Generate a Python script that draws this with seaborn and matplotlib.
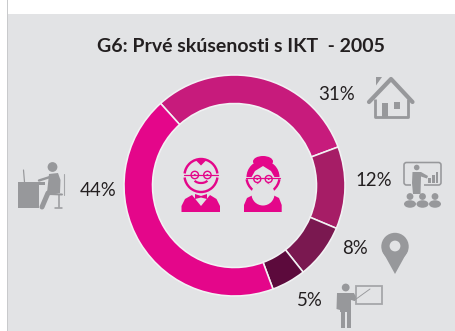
import numpy as np
import matplotlib
matplotlib.use("Agg")
import matplotlib.pyplot as plt
from matplotlib.patches import Circle, Ellipse, Polygon, Rectangle, FancyBboxPatch, Arc, Wedge
import seaborn as sns

title = "G6: Prvé skúsenosti s IKT  - 2005"
shares = [31, 12, 8, 5, 44]
colors = ["#C71B7C", "#A61D66", "#7A1850", "#5C0A3C", "#E4068A"]
label_xy = [(337, 95), (374, 180), (355, 248), (310, 301), (98, 190.5)]
start_clockwise_from_north = 318

PANEL = "#E2E3E5"
ICON = "#97989B"
PINK = "#E4068A"
TEXT = "#231F20"
W, H = 455, 331
px = 0.72  # one pixel in points at dpi 100

sns.set_theme(style="white")
plt.rcParams["font.family"] = ["Lato", "DejaVu Sans"]

fig = plt.figure(figsize=(W / 100, H / 100), dpi=100, facecolor="white")

bg = fig.add_axes([0, 0, 1, 1], zorder=0)
bg.set_xlim(0, W); bg.set_ylim(H, 0); bg.axis("off")
bg.add_patch(Rectangle((7, 14), W, H, fc=PANEL, ec="none"))
bg.add_patch(Rectangle((7, 0), 1.3, H, fc="#C9CACC", ec="none"))

cx, cy, R = 234.5, 185.5, 110.5
pie_ax = fig.add_axes([(cx - R - 1) / W, 1 - (cy + R + 1) / H, (2 * R + 2) / W, (2 * R + 2) / H], zorder=1)
pie_ax.pie(shares, colors=colors, startangle=90 - start_clockwise_from_north, counterclock=False,
           radius=1.0, wedgeprops=dict(width=28.5 / R, edgecolor="#F2F2F4", linewidth=1.6 * px))
pie_ax.set_xlim(-1.0 * (R + 1) / R, (R + 1) / R)
pie_ax.set_ylim(-(R + 1) / R, (R + 1) / R)
pie_ax.patch.set_alpha(0)

ax = fig.add_axes([0, 0, 1, 1], zorder=2)
ax.set_xlim(0, W); ax.set_ylim(H, 0); ax.axis("off"); ax.patch.set_alpha(0)

ax.text(241, 46, title, ha="center", va="center", fontsize=14, fontweight="bold", color=TEXT)
for v, (x, y) in zip(shares, label_xy):
    ax.text(x, y, f"{v}%", ha="center", va="center", fontsize=13.4, color=TEXT)


def line(pts, lw, c=ICON, cap="round"):
    xs, ys = zip(*pts)
    ax.plot(xs, ys, color=c, lw=lw * px, solid_capstyle=cap, solid_joinstyle="round")


def poly(pts, c=ICON):
    ax.add_patch(Polygon(pts, closed=True, fc=c, ec="none"))


def disc(x, y, r, c=ICON):
    ax.add_patch(Circle((x, y), r, fc=c, ec="none"))


def rect(x0, y0, x1, y1, c=ICON):
    ax.add_patch(Rectangle((x0, y0), x1 - x0, y1 - y0, fc=c, ec="none"))


# house
poly([(376, 77), (382, 77), (376, 85.5)])
line([(369, 102), (391, 79), (412.5, 102)], 4.2)
line([(375, 99), (375, 117), (408, 117), (408, 99)], 2.8, cap="butt")
rect(382, 103, 388, 117)
rect(394, 102, 400, 109)

# presenter with audience
ax.add_patch(FancyBboxPatch((404, 162.5), 37, 22.5, boxstyle="round,pad=0,rounding_size=2.5",
                            fc="none", ec=ICON, lw=1.6 * px))
rect(411, 183.5, 424, 187, PANEL)
disc(416.7, 167.5, 2.8)
poly([(412.5, 172), (421, 172), (428, 176), (427, 178.5), (421, 176.5), (420.5, 194), (413, 194), (412, 183)])
rect(428, 178, 431, 183); rect(432, 175, 434.5, 183); rect(435.5, 172, 438, 183)
for x in (410, 422.5, 435):
    disc(x, 196.5, 3.4)
    ax.add_patch(Ellipse((x, 204), 12, 7.5, fc=ICON, ec="none"))

# map pin
ax.add_patch(Circle((395, 246.5), 13.7, fc=ICON, ec="none"))
poly([(382.3, 251), (407.7, 251), (395, 274)])
disc(395, 246, 5.4, PANEL)

# teacher with board
ax.add_patch(Rectangle((355.5, 285.5), 26, 18.5, fc="none", ec="#A5A6A9", lw=1.8 * px))
disc(345.7, 287.5, 3.9)
poly([(337, 293), (354, 293), (356, 297), (355, 301), (351, 300), (351, 312), (340, 312), (340, 310), (336.5, 309)])
rect(341, 310, 345, 328); rect(346.5, 310, 350.5, 328)
line([(354, 300.5), (370, 289)], 0.9)

# desk worker
rect(18, 183, 39, 208)
rect(18, 182, 45, 184.5)
line([(23.5, 170), (24.5, 182)], 1.2)
disc(52.5, 167, 4.9)
poly([(49, 174), (58, 173), (60.5, 180), (60, 193), (47, 193)])
line([(50, 177), (39, 180.5)], 2.4)
line([(57, 191), (48, 193), (42, 207)], 5)
line([(63.5, 174), (63.5, 195)], 1.1, "#A5A6A9")
line([(49, 194), (62, 194.5)], 2)
line([(58.5, 195), (58.5, 207)], 1.5)
line([(55, 207.5), (62, 207.5)], 1.5)


def glasses(x0, x1, y, r):
    for x in (x0, x1):
        ax.add_patch(Circle((x, y), r, fc="none", ec=PINK, lw=1.4 * px))
        disc(x, y, 1.0, PINK)


def smile(x, y, w, h):
    ax.add_patch(Arc((x, y), w, h, theta1=15, theta2=165, color=PINK, lw=2.2 * px))


# man
mx, my = 201, 175.5
for a, b in ((-173, -7), (7, 173)):
    ax.add_patch(Arc((mx, my), 33, 33, theta1=a, theta2=b, color=PINK, lw=2.4 * px))
poly([(mx - 6, my - 16), (mx + 6, my - 16), (mx, my - 10)], PINK)
line([(184, 174.5), (218, 174.5)], 1.2, PINK)
glasses(194.8, 207.4, 175, 3.7)
smile(mx, 179, 14, 8)
poly([(181.5, 212), (181.5, 206), (185, 199), (192, 195), (201, 206), (210, 195), (216.5, 199), (220, 206), (220, 212)], PINK)
poly([(195, 194), (201, 196), (207, 194), (207, 199), (201, 197.5), (195, 199)], PINK)

# woman
wx, wy = 263, 177
ax.add_patch(Ellipse((wx, 161.5), 20, 11, fc=PINK, ec="none"))
ax.add_patch(Wedge((wx, wy), 16.5, 180, 360, fc=PINK, ec="none"))
poly([(wx - 12, wy + 1), (wx - 8, wy - 6), (wx, wy - 11), (wx + 8, wy - 6), (wx + 12, wy + 1)], PANEL)
ax.add_patch(Arc((wx, wy), 33, 33, theta1=8, theta2=172, color=PINK, lw=2.4 * px))
line([(246, 178), (280, 178)], 1.2, PINK)
glasses(257.3, 268.7, 179, 3.5)
smile(wx, 182, 13, 7)
poly([(244, 212), (244, 205), (247, 198), (252, 195.5), (274, 195.5), (279, 198), (281.7, 205), (281.7, 212)], PINK)
disc(wx, 194, 11.5, PANEL)

fig.savefig("out.png", dpi=100, facecolor="white")
